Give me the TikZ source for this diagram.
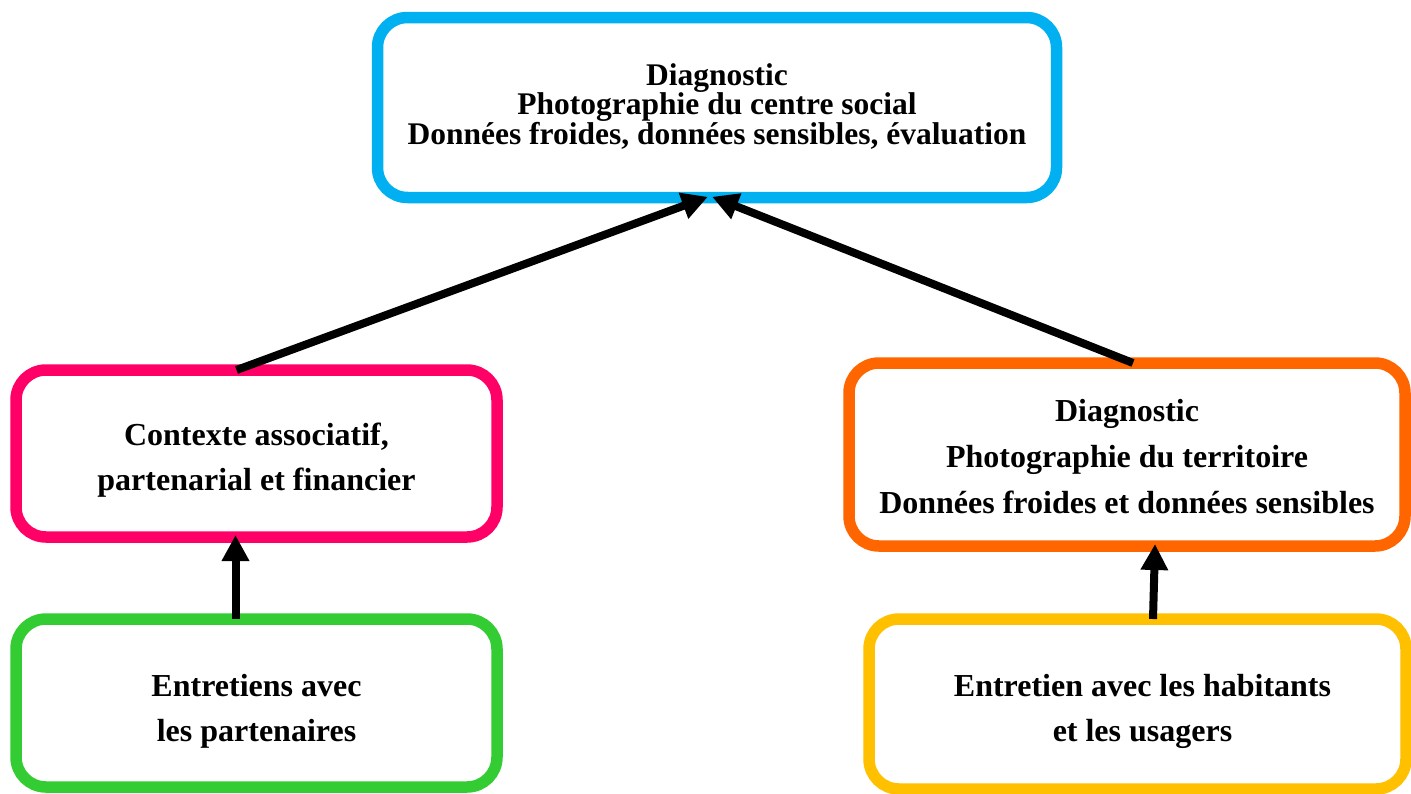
\documentclass[tikz,border=0pt]{standalone}
\usepackage{fontspec}
\setmainfont{Liberation Serif}
\usetikzlibrary{arrows.meta,calc}
\definecolor{cblue}{HTML}{00B0F0}
\definecolor{cpink}{HTML}{FF0066}
\definecolor{cgreen}{HTML}{33CC33}
\definecolor{corange}{HTML}{FF6600}
\definecolor{cyellow}{HTML}{FFC000}
\begin{document}
\begin{tikzpicture}[x=1pt,y=-1pt,
  box/.style={draw, line width=11.5pt, rounded corners=30pt, outer sep=0pt, inner sep=0pt, fill=white},
  txt/.style={align=center, inner sep=0pt, font=\fontsize{32}{45}\selectfont\bfseries},
  conn/.style={line width=8pt, -{Triangle[length=26pt,width=26pt]}, shorten >=-2pt}
]
\useasboundingbox (0,0) rectangle (1411,793);
\node[box, draw=cblue, minimum width=679pt, minimum height=180pt] (top) at (717,107.5) {};
\node[box, draw=cpink, minimum width=481pt, minimum height=167pt] (pink) at (256.5,453.5) {};
\node[box, draw=cgreen, minimum width=481pt, minimum height=168pt] (green) at (256.5,703) {};
\node[box, draw=corange, minimum width=556pt, minimum height=183pt] (orange) at (1127,454.5) {};
\node[box, draw=cyellow, minimum width=537pt, minimum height=170pt] (yellow) at (1137.5,704) {};
\node[txt, font=\fontsize{31.5}{27}\selectfont\bfseries] (toptext) at ($(top)+(0,-1)$)
  {Diagnostic\\Photographie du centre social\\Données froides, données sensibles, évaluation};
\node[txt] (pinktext) at ($(pink)+(0,7)$) {Contexte associatif,\\partenarial et financier};
\node[txt] (greentext) at ($(green)+(0,8.5)$) {Entretiens avec\\les partenaires};
\node[txt, font=\fontsize{32}{46}\selectfont\bfseries] (orangetext) at ($(orange)+(0,2.5)$)
  {Diagnostic\\Photographie du territoire\\Données froides et données sensibles};
\node[txt] (yellowtext) at ($(yellow)+(5,7)$) {Entretien avec les habitants\\et les usagers};
\draw[conn] ([xshift=-20pt]pink.north) -- ([xshift=-11pt]top.south);
\draw[conn] ([xshift=6pt]orange.north) -- ([xshift=-3pt]top.south);
\draw[conn] ([xshift=-21pt]green.north) -- ([xshift=-21pt]pink.south);
\draw[conn] ([xshift=15.5pt]yellow.north) -- ([xshift=28pt]orange.south);
\end{tikzpicture}
\end{document}
